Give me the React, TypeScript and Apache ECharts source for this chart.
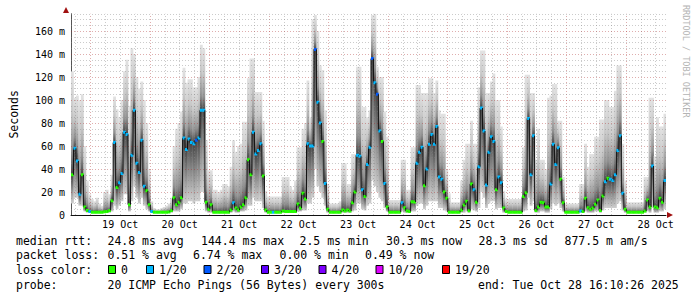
import React, { useEffect, useRef } from 'react';
import * as echarts from 'echarts';

// time axis in hours since 18 Oct 00:00; graph covers 18 Oct 16:10 .. 28 Oct 16:10
const startHour = 16 + 10 / 60;
const slotHours = 1;
const dayLabels = ['19 Oct', '20 Oct', '21 Oct', '22 Oct', '23 Oct', '24 Oct', '25 Oct', '26 Oct', '27 Oct', '28 Oct'];
const dayNoonHours = [36, 60, 84, 108, 132, 156, 180, 204, 228, 252];
const yTickValues = [0, 20, 40, 60, 80, 100, 120, 140, 160];

// median RTT (ms) per hour slot
const medianRtt = [
  35, 58, 47, 18, 35, 7, 4, 3, 2.5, 2.5, 2.5, 2.5, 2.5, 2.8, 3, 4, 12.5, 63, 24, 28,
  36, 72, 70, 9, 52, 91, 45, 37, 65, 25, 21, 9, 3, 2.5, 2.5, 2.5, 2.5, 2.5, 2.5, 2.6,
  4, 15, 9, 11, 15, 67, 57, 66, 63, 62, 65, 67, 91, 91, 11, 5, 9, 2.5, 2.5, 2.5,
  2.5, 2.5, 2.5, 2.5, 4.3, 10.7, 6, 4.3, 7, 9, 15, 48, 35, 72, 53, 56, 62, 34, 4.3, 2.5,
  2.5, 2.5, 2.5, 2.5, 2.5, 3.5, 3, 3, 3, 3, 3, 9.6, 6, 19, 14, 62, 60, 60, 144, 98,
  80, 64, 27.5, 5, 2.5, 2.5, 2.5, 2.5, 2.5, 4.3, 3.5, 4.3, 3.5, 10.7, 20, 52, 51, 22, 16, 44,
  59, 136, 115, 105, 73, 64, 27.5, 7, 2.5, 2.5, 2.5, 2.5, 2.5, 10.7, 6.4, 3.5, 3, 11.6, 11.3, 45,
  54.5, 59, 25.5, 40, 61.5, 70, 61.5, 77, 33, 31, 20, 14.5, 2.5, 2.5, 2.5, 2.5, 2.5, 4.3, 8.7, 12,
  3.8, 27, 22, 11, 42, 93, 73, 26, 54.5, 68, 64, 22, 33, 28, 6, 3, 2.5, 2.5, 2.5, 2.5,
  2.5, 2.5, 16, 19.4, 84, 35, 69, 4, 7, 11, 10.7, 7, 7, 27, 61.5, 44, 58.5, 31, 10.7, 2.5,
  2.5, 2.5, 2.5, 2.5, 2.5, 3.5, 3, 14.5, 6.4, 5, 6, 9.3, 13, 4, 16.5, 29, 32, 31, 30, 35,
  56, 69, 19, 5, 2.5, 2.5, 2.5, 2.5, 2.5, 2.5, 2.5, 3.5, 13, 7, 42.6, 7, 6.4, 14.5, 11, 30,
];

// loss level index per slot (0 = 0/20, 1 = 1/20, 2 = 2/20 ...)
const lossLevel = [
  0, 1, 1, 1, 0, 0, 0, 1, 0, 0, 0, 0, 0, 0, 0, 0, 0, 1, 0, 1,
  1, 1, 1, 0, 1, 1, 1, 1, 1, 1, 0, 0, 1, 0, 0, 0, 0, 0, 0, 0,
  0, 0, 0, 0, 0, 1, 1, 1, 1, 1, 2, 1, 1, 1, 0, 0, 0, 0, 0, 0,
  0, 0, 0, 0, 0, 1, 0, 0, 0, 0, 0, 0, 0, 1, 1, 1, 1, 0, 0, 0,
  0, 1, 0, 0, 0, 0, 0, 0, 0, 0, 0, 0, 0, 0, 0, 1, 1, 1, 2, 1,
  1, 0, 1, 0, 0, 0, 0, 0, 0, 0, 0, 0, 0, 0, 0, 1, 1, 1, 0, 1,
  1, 2, 1, 2, 1, 0, 1, 0, 0, 0, 0, 0, 0, 1, 0, 0, 0, 0, 0, 1,
  1, 1, 0, 1, 1, 1, 1, 1, 1, 1, 0, 0, 0, 0, 0, 0, 0, 0, 0, 0,
  0, 0, 1, 0, 1, 1, 1, 1, 1, 1, 1, 0, 1, 1, 0, 0, 0, 0, 0, 0,
  0, 0, 0, 0, 1, 1, 1, 0, 0, 0, 0, 0, 0, 1, 1, 1, 1, 0, 0, 0,
  0, 0, 0, 0, 0, 1, 0, 0, 0, 0, 0, 0, 0, 0, 0, 1, 0, 1, 1, 1,
  1, 1, 1, 0, 0, 0, 0, 0, 0, 0, 0, 0, 0, 0, 1, 0, 0, 0, 0, 1,
];

// top of the smoke (slowest pings, ms)
const smokeHigh = [
  125, 102, 104, 100, 105, 60, 30, 18, 14, 12, 15, 10, 8, 20, 22, 18, 35, 103, 92, 85,
  100, 125, 135, 95, 145, 140, 120, 110, 116, 100, 80, 40, 12, 6, 5, 5, 6, 7, 8, 10,
  15, 60, 75, 80, 90, 128, 115, 118, 118, 111, 111, 120, 148, 145, 65, 39, 39, 22, 22, 20,
  22, 27, 27, 25, 42, 65, 55, 60, 62, 81, 81, 119, 136, 136, 107, 107, 107, 82, 21, 16,
  16, 16, 16, 16, 16, 33, 33, 33, 25, 22, 30, 59, 59, 75, 80, 117, 85, 170, 174, 160,
  130, 126, 91, 27, 10, 10, 10, 10, 12, 45, 45, 27, 27, 53, 53, 129, 129, 94, 94, 85,
  91, 174, 175, 129, 120, 120, 90, 68, 13, 13, 13, 13, 13, 48, 48, 22, 22, 59, 59, 113,
  113, 106, 106, 106, 119, 119, 106, 117, 91, 88, 88, 40, 19, 11, 11, 11, 11, 30, 48, 62,
  62, 82, 62, 62, 111, 143, 143, 106, 106, 116, 123, 100, 100, 77, 21, 14, 14, 14, 14, 14,
  14, 14, 59, 122, 122, 106, 106, 48, 75, 48, 48, 40, 102, 104, 114, 114, 82, 82, 33, 10,
  10, 10, 10, 10, 10, 27, 27, 62, 42, 53, 53, 68, 68, 83, 83, 100, 100, 94, 94, 108,
  130, 130, 62, 30, 11, 11, 11, 11, 11, 11, 11, 33, 33, 102, 102, 51, 85, 77, 77, 88,
];

// bottom of the smoke (fastest pings, ms)
const smokeLow = [
  10, 15, 15, 8, 8, 3, 2, 2, 2, 2, 2, 2, 2, 2, 2, 2, 3, 8, 5, 8,
  12, 18, 18, 3, 12, 25, 15, 10, 15, 8, 5, 3, 2, 2, 2, 2, 2, 2, 2, 2,
  2, 3, 3, 3, 5, 10, 10, 12, 12, 10, 12, 12, 20, 20, 3, 2, 2, 2, 2, 2,
  2, 2, 2, 2, 2, 3, 2, 2, 3, 3, 4, 8, 8, 15, 12, 12, 12, 6, 2, 2,
  2, 2, 2, 2, 2, 2, 2, 2, 2, 2, 2, 3, 3, 4, 4, 10, 10, 15, 40, 25,
  20, 15, 8, 2, 2, 2, 2, 2, 2, 2, 2, 2, 2, 3, 4, 10, 10, 5, 4, 8,
  10, 30, 25, 20, 15, 12, 6, 3, 2, 2, 2, 2, 2, 3, 2, 2, 2, 3, 3, 8,
  10, 10, 5, 8, 12, 12, 12, 12, 6, 6, 4, 3, 2, 2, 2, 2, 2, 2, 2, 3,
  2, 5, 4, 3, 6, 20, 15, 6, 10, 12, 12, 5, 6, 6, 2, 2, 2, 2, 2, 2,
  2, 2, 3, 4, 15, 8, 12, 2, 2, 3, 3, 2, 2, 5, 10, 8, 10, 6, 3, 2,
  2, 2, 2, 2, 2, 2, 2, 3, 2, 2, 2, 3, 3, 2, 4, 6, 6, 6, 6, 6,
  10, 12, 4, 2, 2, 2, 2, 2, 2, 2, 2, 2, 3, 2, 6, 2, 2, 3, 3, 5,
];

const rttStats = ['24.8 ms avg', '144.4 ms max', '2.5 ms min', '30.3 ms now', '28.3 ms sd', '877.5 m am/s'];
const lossStats = ['0.51 % avg', '6.74 % max', '0.00 % min', '0.49 % now'];
const lossLabels = ['0', '1/20', '2/20', '3/20', '4/20', '10/20', '19/20'];
const lossColors = ['#26ff00', '#00b8ff', '#0059ff', '#5e00ff', '#7e00ff', '#dd00ff', '#ff0000'];
const probeText = '20 ICMP Echo Pings (56 Bytes) every 300s';
const endText = 'end: Tue Oct 28 16:10:26 2025';

const MONO = '"DejaVu Sans Mono", monospace';

export default function App() {
  const ref = useRef<HTMLDivElement>(null);
  useEffect(() => {
    if (!ref.current) return;
    const chart = echarts.init(ref.current, null, { renderer: 'svg' });
    const xMin = startHour;
    const xMax = startHour + medianRtt.length * slotHours;

    const smokeData = medianRtt.map((m, i) => [startHour + i * slotHours, smokeLow[i], m, smokeHigh[i]]);
    const medData = medianRtt.map((m, i) => [startHour + i * slotHours, m, lossLevel[i]]);

    // grid lines
    const gridLines: any[] = [];
    const majorC = 'rgba(170,40,40,0.38)';
    const minorC = 'rgba(130,130,130,0.42)';
    for (let h = Math.ceil(xMin / 6) * 6; h <= xMax; h += 6) {
      const major = h % 24 === 0;
      gridLines.push({ xAxis: h, lineStyle: { color: major ? majorC : minorC, width: 1, type: [1, 2] } });
    }
    for (let v = 5; v <= 175; v += 5) {
      const major = v % 20 === 0;
      gridLines.push({ yAxis: v, lineStyle: { color: major ? majorC : minorC, width: 1, type: [1, 2] } });
    }

    const legendFont = { fontFamily: MONO, fontSize: 11.5, fill: '#000' };
    const graphics: any[] = [];
    const addText = (x: number, y: number, text: string, extra: any = {}) => {
      graphics.push({ type: 'text', x, y, style: { text, ...legendFont, textVerticalAlign: 'middle', ...extra }, silent: true });
    };
    addText(16, 241, 'median rtt:');
    const rttX = [107.5, 201, 299.5, 386, 478.5, 564.5];
    rttStats.forEach((s, i) => addText(rttX[i], 241, s));
    addText(16, 255, 'packet loss:');
    const lossX = [107.5, 193, 279.5, 365];
    lossStats.forEach((s, i) => addText(lossX[i], 255, s));
    addText(16, 269.5, 'loss color:');
    const sqX = [108.5, 146.5, 204, 261.5, 319, 376, 442.5];
    lossLabels.forEach((s, i) => {
      graphics.push({ type: 'rect', shape: { x: sqX[i], y: 265.5, width: 7, height: 8 }, style: { fill: lossColors[i], stroke: '#000', lineWidth: 1 } });
      addText(sqX[i] + 12.5, 269.5, s);
    });
    addText(16, 284.5, 'probe:');
    addText(107.5, 284.5, probeText);
    addText(478, 284.5, endText);
    graphics.push({
      type: 'text', x: 686, y: 5, rotation: -Math.PI / 2,
      style: { text: 'RRDTOOL / TOBI OETIKER', fontFamily: MONO, fontSize: 8.5, fill: '#b4b4b4', textVerticalAlign: 'middle' },
    });
    // axis arrows
    graphics.push({ type: 'polygon', shape: { points: [[66, 7], [63, 13], [69, 13]] }, style: { fill: '#a01010' } });
    graphics.push({ type: 'polygon', shape: { points: [[673, 215], [667, 212], [667, 218]] }, style: { fill: '#a01010' } });

    chart.setOption({
      animation: false,
      backgroundColor: '#ffffff',
      grid: { left: 66, right: 31, top: 13.75, bottom: 82, containLabel: false },
      xAxis: {
        type: 'value', min: xMin, max: xMax,
        axisLine: { show: true, lineStyle: { color: '#111', width: 1 } },
        axisTick: { show: false },
        splitLine: { show: false },
        axisLabel: {
          customValues: dayNoonHours,
          formatter: (v: number) => { const k = dayNoonHours.indexOf(Math.round(v)); return k >= 0 ? dayLabels[k] : ''; },
          fontFamily: MONO, fontSize: 10, color: '#000', margin: 4,
        },
      },
      yAxis: {
        type: 'value', min: 0, max: 175, interval: 20,
        name: 'Seconds', nameLocation: 'middle', nameGap: 51, nameRotate: 90,
        nameTextStyle: { fontFamily: MONO, fontSize: 11.5, color: '#000' },
        axisLine: { show: true, lineStyle: { color: '#555', width: 1 } },
        axisTick: { show: false },
        splitLine: { show: false },
        axisLabel: {
          customValues: yTickValues,
          formatter: (v: number) => (v === 0 ? '0' : v % 20 === 0 ? `${v} m` : ''),
          fontFamily: MONO, fontSize: 10, color: '#000', margin: 6,
        },
      },
      series: [
        {
          type: 'custom', z: 2, clip: true,
          data: smokeData,
          encode: { x: 0, y: [1, 2, 3] },
          renderItem: (params: any, api: any) => {
            const t = api.value(0);
            const lo = api.value(1), med = api.value(2), hi = api.value(3);
            const pLo = api.coord([t, lo]);
            const pHi = api.coord([t + slotHours, hi]);
            const yMed = api.coord([t, med])[1];
            const top = pHi[1], bot = pLo[1];
            const h = Math.max(bot - top, 0.5);
            const f = Math.min(Math.max((yMed - top) / h, 0), 1);
            return {
              type: 'rect',
              shape: { x: pLo[0], y: top, width: pHi[0] - pLo[0] + 0.35, height: h },
              style: {
                fill: new echarts.graphic.LinearGradient(0, 0, 0, 1, [
                  { offset: 0, color: '#e2e2e2' },
                  { offset: f * 0.4, color: '#c8c8c8' },
                  { offset: f * 0.78, color: '#919191' },
                  { offset: f, color: '#454545' },
                  { offset: f + (1 - f) * 0.5, color: '#8c8c8c' },
                  { offset: 1, color: '#cfcfcf' },
                ]),
              },
            };
          },
        },
        {
          type: 'line', z: 3, data: [[xMin, 0]], showSymbol: false, lineStyle: { opacity: 0 }, silent: true,
          markLine: { silent: true, symbol: ['none', 'none'], label: { show: false }, animation: false, data: gridLines },
        },
        {
          type: 'custom', z: 7, clip: true,
          data: medData,
          encode: { x: 0, y: 1 },
          renderItem: (params: any, api: any) => {
            const i = params.dataIndex;
            const t = api.value(0), med = api.value(1), loss = api.value(2);
            const p0 = api.coord([t, med]);
            const p1 = api.coord([t + slotHours, med]);
            const children: any[] = [];
            if (i > 0) {
              const prev = api.coord([t, medianRtt[i - 1]]);
              children.push({ type: 'line', shape: { x1: p0[0], y1: prev[1], x2: p0[0], y2: p0[1] }, style: { stroke: '#111', lineWidth: 1 } });
            }
            children.push({ type: 'rect', shape: { x: p0[0], y: p0[1] - 1.5, width: p1[0] - p0[0] + 0.3, height: 3 }, style: { fill: lossColors[loss] } });
            return { type: 'group', children };
          },
        },
      ],
      graphic: graphics,
    });
    return () => chart.dispose();
  }, []);
  return <div ref={ref} style={{ position: 'fixed', left: 0, top: 0, width: 697, height: 297 }} />;
}
